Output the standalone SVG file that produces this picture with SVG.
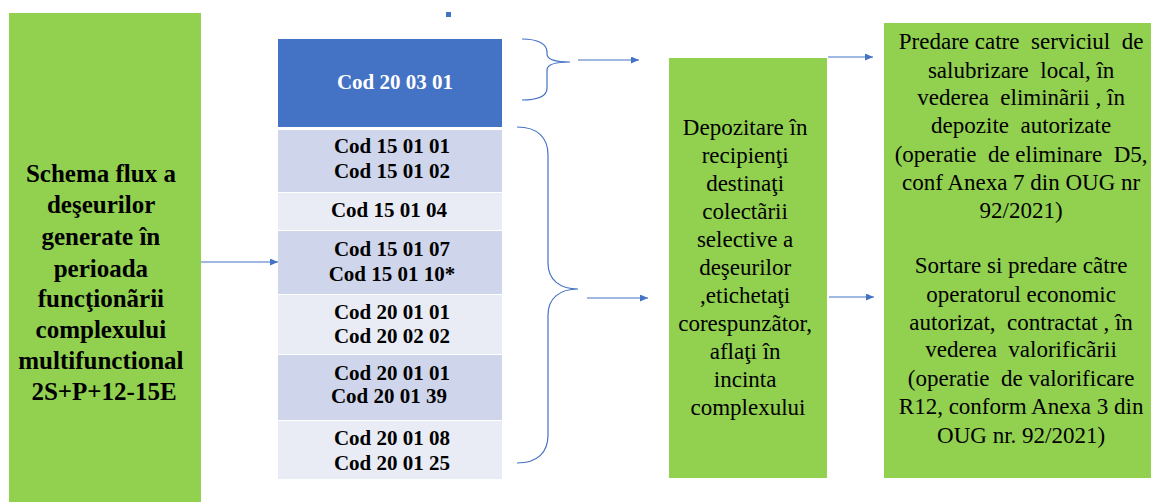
<svg xmlns="http://www.w3.org/2000/svg" width="1151" height="502" viewBox="0 0 1151 502">
<defs>
<marker id="ah" markerUnits="userSpaceOnUse" markerWidth="8" markerHeight="7" refX="8" refY="3.5" orient="auto">
<path d="M0,0 L8,3.5 L0,7 z" fill="#4472C4"/>
</marker>
<style>
.green{fill:#92D050}
.b{font-family:"Liberation Serif","Times New Roman",serif;font-weight:bold;text-anchor:middle}
.r{font-family:"Liberation Serif","Times New Roman",serif;text-anchor:middle;font-size:23px;fill:#000}
.code{font-size:21px;fill:#000}
.dark{fill:#CFD5EA}
.light{fill:#E9EBF5}
.conn{stroke:#4472C4;stroke-width:1.2;fill:none}
</style>
</defs>
<rect width="1151" height="502" fill="#fff"/>
<g id="source">
<rect class="green" x="9" y="13" width="192" height="489"/>
<text class="b" font-size="25" x="104">
<tspan x="104" y="182">Schema flux a</tspan>
<tspan x="104" y="213">deşeurilor</tspan>
<tspan x="104" y="245">generate în</tspan>
<tspan x="104" y="277">perioada</tspan>
<tspan x="104" y="307">funcţionãrii</tspan>
<tspan x="104" y="338">complexului</tspan>
<tspan x="104" y="369">multifunctional</tspan>
<tspan x="104" y="400">2S+P+12-15E</tspan>
</text>
</g>
<rect id="marker-dot" x="446" y="12" width="5" height="5" fill="#4472C4"/>
<g id="cod-200301">
<rect x="278" y="39" width="224" height="88" fill="#4472C4"/>
<text class="b code" x="395" y="89" style="fill:#fff">Cod 20 03 01</text>
</g>
<g id="cod-row1">
<rect class="dark" x="278" y="130" width="224" height="62"/>
<text class="b code" x="392" y="153">Cod 15 01 01</text>
<text class="b code" x="392" y="178">Cod 15 01 02</text>
</g>
<g id="cod-row2">
<rect class="light" x="278" y="193" width="224" height="37"/>
<text class="b code" x="389" y="217">Cod 15 01 04</text>
</g>
<g id="cod-row3">
<rect class="dark" x="278" y="231" width="224" height="63"/>
<text class="b code" x="392" y="256">Cod 15 01 07</text>
<text class="b code" x="392" y="281">Cod 15 01 10*</text>
</g>
<g id="cod-row4">
<rect class="light" x="278" y="295" width="224" height="59"/>
<text class="b code" x="392" y="319">Cod 20 01 01</text>
<text class="b code" x="392" y="343">Cod 20 02 02</text>
</g>
<g id="cod-row5">
<rect class="dark" x="278" y="355" width="224" height="65"/>
<text class="b code" x="392" y="380">Cod 20 01 01</text>
<text class="b code" x="389" y="403">Cod 20 01 39</text>
</g>
<g id="cod-row6">
<rect class="light" x="278" y="421" width="224" height="58"/>
<text class="b code" x="392" y="445">Cod 20 01 08</text>
<text class="b code" x="392" y="470">Cod 20 01 25</text>
</g>
<g id="storage">
<rect class="green" x="669" y="58" width="158" height="420"/>
<text class="r">
<tspan x="748" y="135">Depozitare  în</tspan>
<tspan x="748" y="163">recipienţi</tspan>
<tspan x="748" y="191">destinaţi</tspan>
<tspan x="748" y="219">colectãrii</tspan>
<tspan x="748" y="247">selective a</tspan>
<tspan x="748" y="275">deşeurilor</tspan>
<tspan x="748" y="303">,etichetaţi</tspan>
<tspan x="748" y="331">corespunzãtor,</tspan>
<tspan x="748" y="359">aflaţi  în</tspan>
<tspan x="748" y="387">incinta</tspan>
<tspan x="748" y="415">complexului</tspan>
</text>
</g>
<g id="destination">
<rect class="green" x="884" y="23" width="267" height="455"/>
<text class="r" style="white-space:pre">
<tspan x="1024" y="49">Predare catre  serviciul  de</tspan>
<tspan x="1024" y="78">salubrizare  local, în</tspan>
<tspan x="1024" y="105">vederea  eliminãrii , în</tspan>
<tspan x="1024" y="133">depozite  autorizate</tspan>
<tspan x="1024" y="162">(operatie  de eliminare  D5,</tspan>
<tspan x="1024" y="190">conf Anexa 7 din OUG nr</tspan>
<tspan x="1024" y="218">92/2021)</tspan>
<tspan x="1024" y="273">Sortare si predare cãtre</tspan>
<tspan x="1024" y="302">operatorul economic</tspan>
<tspan x="1024" y="330">autorizat,  contractat , în</tspan>
<tspan x="1024" y="357">vederea  valorificãrii</tspan>
<tspan x="1024" y="386">(operatie  de valorificare</tspan>
<tspan x="1024" y="414">R12, conform Anexa 3 din</tspan>
<tspan x="1024" y="443">OUG nr. 92/2021)</tspan>
</text>
</g>
<g id="connectors">
<path class="conn" d="M522,39 C538,39 547,44 547,52 L547,54 C547,59 555,62 570,62 C555,62 547,65 547,70 L547,88 C547,96 538,100 522,100"/>
<path class="conn" d="M517,127 C538,127 548,138 548,155 L548,263 C548,280 560,289 578,289 C560,289 548,298 548,315 L548,435 C548,452 538,463 517,463"/>
<path class="conn" d="M201,262 L278,262" marker-end="url(#ah)"/>
<path class="conn" d="M578,60 L639,60" marker-end="url(#ah)"/>
<path class="conn" d="M587,298 L648,298" marker-end="url(#ah)"/>
<path class="conn" d="M828,57 L873,57" marker-end="url(#ah)"/>
<path class="conn" d="M829,297 L874,297" marker-end="url(#ah)"/>
</g>
</svg>
